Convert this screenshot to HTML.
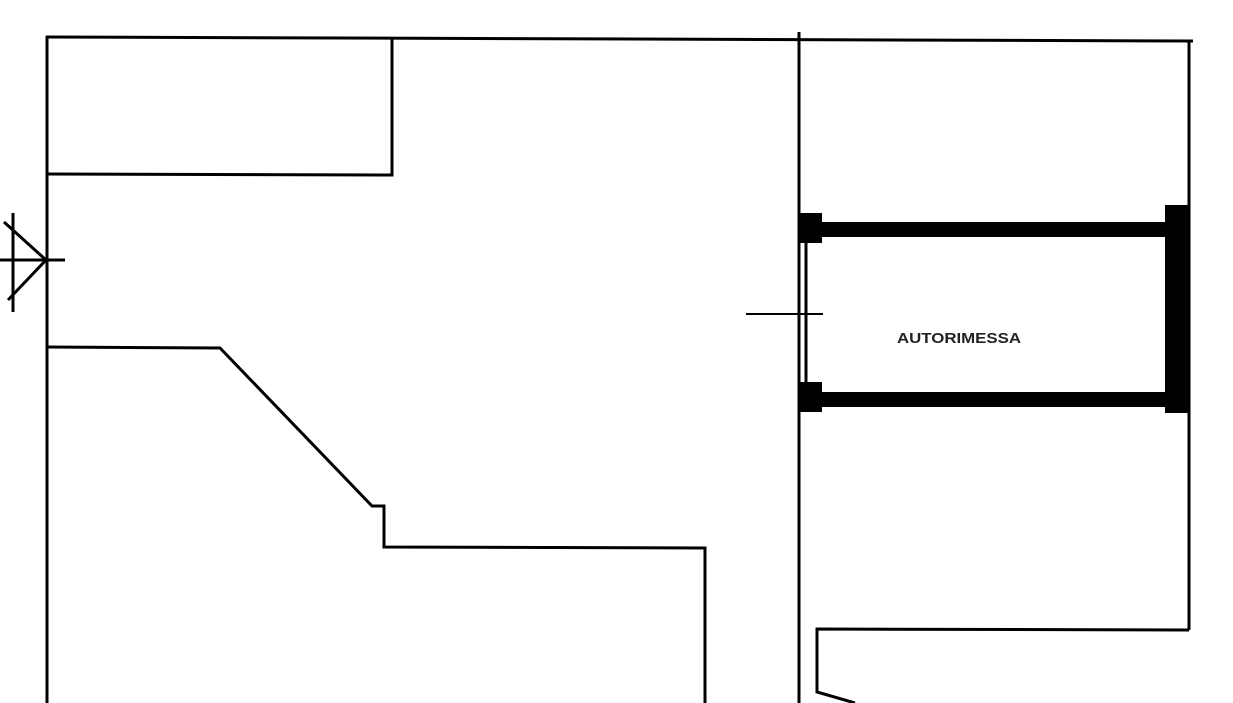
<!DOCTYPE html>
<html><head><style>body{margin:0;background:#fff}svg{display:block}</style></head><body>
<svg width="1233" height="703" viewBox="0 0 1233 703" xmlns="http://www.w3.org/2000/svg">
<g stroke="#000" fill="none" stroke-width="3">
<line x1="46" y1="37" x2="1193" y2="41"/>
<line x1="47" y1="36" x2="47" y2="703"/>
<polyline points="47,174 392,175 392,37"/>
<polyline points="47,347 220,348 372,506 384,506 384,547 705,548 705,703"/>
<line x1="799" y1="32" x2="799" y2="703"/>
<line x1="1189" y1="41" x2="1189" y2="630"/>
<polyline points="1189,630 817,629 817,692 855,703"/>
<line x1="806" y1="240" x2="806" y2="395"/>
<line x1="746" y1="314" x2="823" y2="314" stroke-width="2"/>
<line x1="0" y1="260" x2="65" y2="260"/>
<line x1="13" y1="213" x2="13" y2="312"/>
<line x1="4" y1="222" x2="46" y2="260"/>
<line x1="46" y1="260" x2="8" y2="300"/>
</g>
<g fill="#000">
<rect x="800" y="222" width="390" height="15"/>
<rect x="800" y="392" width="390" height="15"/>
<rect x="800" y="213" width="22" height="30"/>
<rect x="800" y="382" width="22" height="30"/>
<rect x="1165" y="205" width="24" height="208"/>
</g>
<text x="959" y="343" font-family="Liberation Sans, sans-serif" font-size="15" font-weight="bold" text-anchor="middle" textLength="124" lengthAdjust="spacingAndGlyphs" fill="#222">AUTORIMESSA</text>
</svg>
</body></html>
